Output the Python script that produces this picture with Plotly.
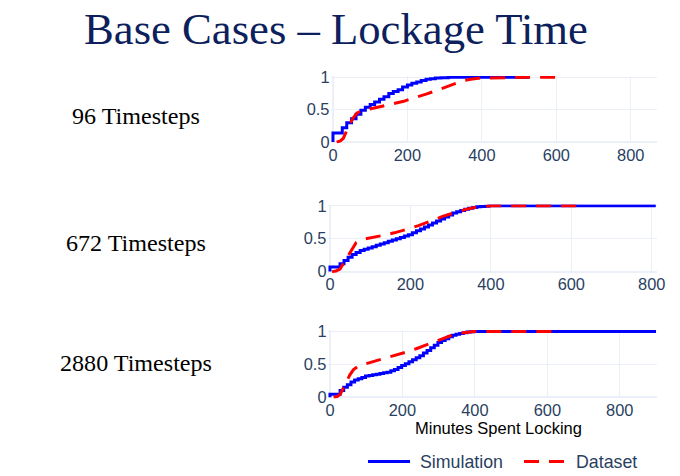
import plotly.graph_objects as go

# ---- data (minutes, cumulative fraction) ----
sim96_x = [0, 0, 25, 37, 50, 62, 75, 87, 100, 112, 125, 137, 150, 162, 175, 187, 200,
           212, 225, 237, 250, 262, 275, 290, 310, 527]
sim96_y = [0, 0.14, 0.22, 0.30, 0.36, 0.43, 0.49, 0.54, 0.58, 0.62, 0.66, 0.70, 0.75, 0.78,
           0.81, 0.85, 0.88, 0.91, 0.93, 0.95, 0.97, 0.98, 0.99, 0.995, 1.0, 1.0]
data96_x = [10, 20, 28, 35, 45, 55, 65, 75, 90, 110, 130, 150, 170, 190, 210, 230, 250,
            270, 290, 310, 330, 350, 370, 390, 420, 460, 520, 620]
data96_y = [0, 0.02, 0.06, 0.16, 0.28, 0.38, 0.45, 0.48, 0.50, 0.52, 0.545, 0.57, 0.60,
            0.63, 0.67, 0.70, 0.74, 0.78, 0.82, 0.87, 0.91, 0.95, 0.97, 0.985, 0.99,
            0.995, 1.0, 1.0]

sim672_x = [0, 0, 25, 35, 45, 55, 65, 75, 85, 95, 105, 115, 125, 135, 145, 155, 165, 175,
            185, 195, 205, 215, 225, 235, 245, 255, 265, 275, 285, 295, 305, 315, 325,
            335, 345, 355, 365, 375, 385, 395, 405, 810]
sim672_y = [0, 0.07, 0.12, 0.17, 0.22, 0.26, 0.29, 0.32, 0.34, 0.36, 0.38, 0.40, 0.42,
            0.44, 0.46, 0.48, 0.50, 0.52, 0.54, 0.56, 0.59, 0.62, 0.65, 0.68, 0.71, 0.74,
            0.77, 0.80, 0.83, 0.86, 0.89, 0.91, 0.93, 0.95, 0.965, 0.975, 0.985, 0.99,
            0.995, 1.0, 1.0, 1.0]
data672_x = [5, 15, 25, 35, 45, 55, 65, 80, 100, 120, 140, 160, 180, 200, 220, 240, 260,
             280, 300, 320, 340, 360, 380, 400, 450, 500, 560, 620]
data672_y = [0, 0.01, 0.04, 0.14, 0.26, 0.36, 0.44, 0.49, 0.51, 0.53, 0.56, 0.59, 0.62,
             0.66, 0.70, 0.74, 0.79, 0.84, 0.88, 0.92, 0.95, 0.975, 0.99, 1.0, 1.0, 1.0,
             1.0, 1.0]

sim2880_x = [0, 0, 28, 38, 48, 58, 68, 78, 88, 98, 108, 118, 128, 138, 148, 158, 168, 178,
             188, 198, 208, 218, 228, 238, 248, 258, 268, 278, 288, 298, 308, 318, 328,
             338, 348, 358, 368, 378, 388, 398, 408, 900]
sim2880_y = [0, 0.045, 0.10, 0.15, 0.19, 0.23, 0.26, 0.28, 0.30, 0.32, 0.33, 0.34, 0.35,
             0.36, 0.37, 0.38, 0.40, 0.42, 0.45, 0.48, 0.51, 0.54, 0.57, 0.60, 0.63, 0.67,
             0.71, 0.75, 0.79, 0.83, 0.86, 0.89, 0.92, 0.94, 0.955, 0.97, 0.98, 0.99,
             0.995, 1.0, 1.0, 1.0]
data2880_x = [10, 20, 28, 35, 45, 55, 65, 80, 100, 120, 140, 160, 180, 200, 220, 240, 260,
              280, 300, 320, 340, 360, 380, 400, 450, 500, 560, 620]
data2880_y = [0, 0.01, 0.04, 0.12, 0.24, 0.34, 0.42, 0.48, 0.51, 0.54, 0.57, 0.60, 0.63,
              0.66, 0.70, 0.74, 0.78, 0.82, 0.87, 0.91, 0.95, 0.975, 0.99, 1.0, 1.0, 1.0,
              1.0, 1.0]

row_labels = ["96 Timesteps", "672 Timesteps", "2880 Timesteps"]

# layout is worked out in picture pixels; the page gets squeezed a little into
# the window, so convert picture pixels to figure pixels (measured from a test run)
W, H = 688, 484


def px(t):
    return (t - 1.8) / 0.9847


def py(t):
    return (t - 6.4) / 0.9726


def hfrac(t):
    return px(t) / W


def vfrac(t):
    return 1 - py(t) / H


# picture pixels of: x=0, x=800, right edge, y=0, y=1 for each panel
panels = [(333, 631, 657, 141, 76), (330, 652, 657, 271, 205), (330, 620, 657, 397, 331)]
label_y = [114.5, 242, 363]

fig = go.Figure()
series = [(sim96_x, sim96_y, data96_x, data96_y),
          (sim672_x, sim672_y, data672_x, data672_y),
          (sim2880_x, sim2880_y, data2880_x, data2880_y)]

tick_font = dict(family="Liberation Sans, Arial", size=16.4, color="#2a3f5f")

for i, (sx, sy, dx, dy) in enumerate(series):
    n = "" if i == 0 else str(i + 1)
    # the no-break space only pads the legend text away from its line sample
    fig.add_trace(go.Scatter(x=sx, y=sy, mode="lines", name="\u00a0Simulation",
                             line=dict(color="blue", width=3, shape="hv"),
                             xaxis="x" + n, yaxis="y" + n, showlegend=(i == 0)))
    fig.add_trace(go.Scatter(x=dx, y=dy, mode="lines", name="\u00a0Dataset",
                             line=dict(color="red", width=3, dash="15px,10px"),
                             xaxis="x" + n, yaxis="y" + n, showlegend=(i == 0)))

    x0, x800, xr, y0, y1 = panels[i]
    kx = (px(x800) - px(x0)) / 800
    left = px(x0) - 2.5
    xmin, xmax = -2.5 / kx, (px(xr) - px(x0)) / kx
    ky = py(y0) - py(y1)
    top, bottom = py(y0) - 1.02 * ky, py(y0) + 0.02 * ky

    ax = dict(domain=[left / W, px(xr) / W], range=[xmin, xmax], dtick=200, tick0=0,
              anchor="y" + n, showgrid=True, gridcolor="#EBF0F8", zeroline=True,
              zerolinecolor="#EBF0F8", zerolinewidth=2, tickfont=tick_font)
    ay = dict(domain=[1 - bottom / H, 1 - top / H], range=[-0.02, 1.02], dtick=0.5,
              tick0=0, anchor="x" + n, showgrid=True, gridcolor="#EBF0F8", zeroline=True,
              zerolinecolor="#EBF0F8", zerolinewidth=2, tickfont=tick_font)
    fig.update_layout({"xaxis" + n: ax, "yaxis" + n: ay})
    fig.add_annotation(text=row_labels[i], x=hfrac(135.5), y=vfrac(label_y[i]),
                       xref="paper", yref="paper", showarrow=False, xanchor="center",
                       yanchor="middle",
                       font=dict(family="Liberation Serif, Times New Roman", size=24.1,
                                 color="black"))

fig.add_annotation(text="Minutes Spent Locking", x=hfrac(498.7), y=vfrac(428),
                   xref="paper", yref="paper", showarrow=False, xanchor="center",
                   yanchor="middle",
                   font=dict(family="Liberation Sans, Arial", size=16.5, color="black"))

fig.add_annotation(text="Base Cases – Lockage Time", x=hfrac(336.5), y=1 + 6.7 / H,
                   xref="paper", yref="paper", showarrow=False, xanchor="center",
                   yanchor="top",
                   font=dict(family="Liberation Serif, Times New Roman", size=44.7,
                             color="#0d1f5c"))

fig.update_layout(
    width=W, height=H, template="plotly_white",
    margin=dict(l=0, r=0, t=0, b=0),
    plot_bgcolor="white", paper_bgcolor="white",
    legend=dict(orientation="h", x=(px(368) - 5) / W, y=vfrac(462), xanchor="left",
                yanchor="middle", itemwidth=42, entrywidth=99,
                font=dict(family="Liberation Sans, Arial", size=17.8, color="#2a3f5f")),
)

fig.write_html("out.html", config={"displayModeBar": False},
               post_script="document.body.style.margin = '0';")
